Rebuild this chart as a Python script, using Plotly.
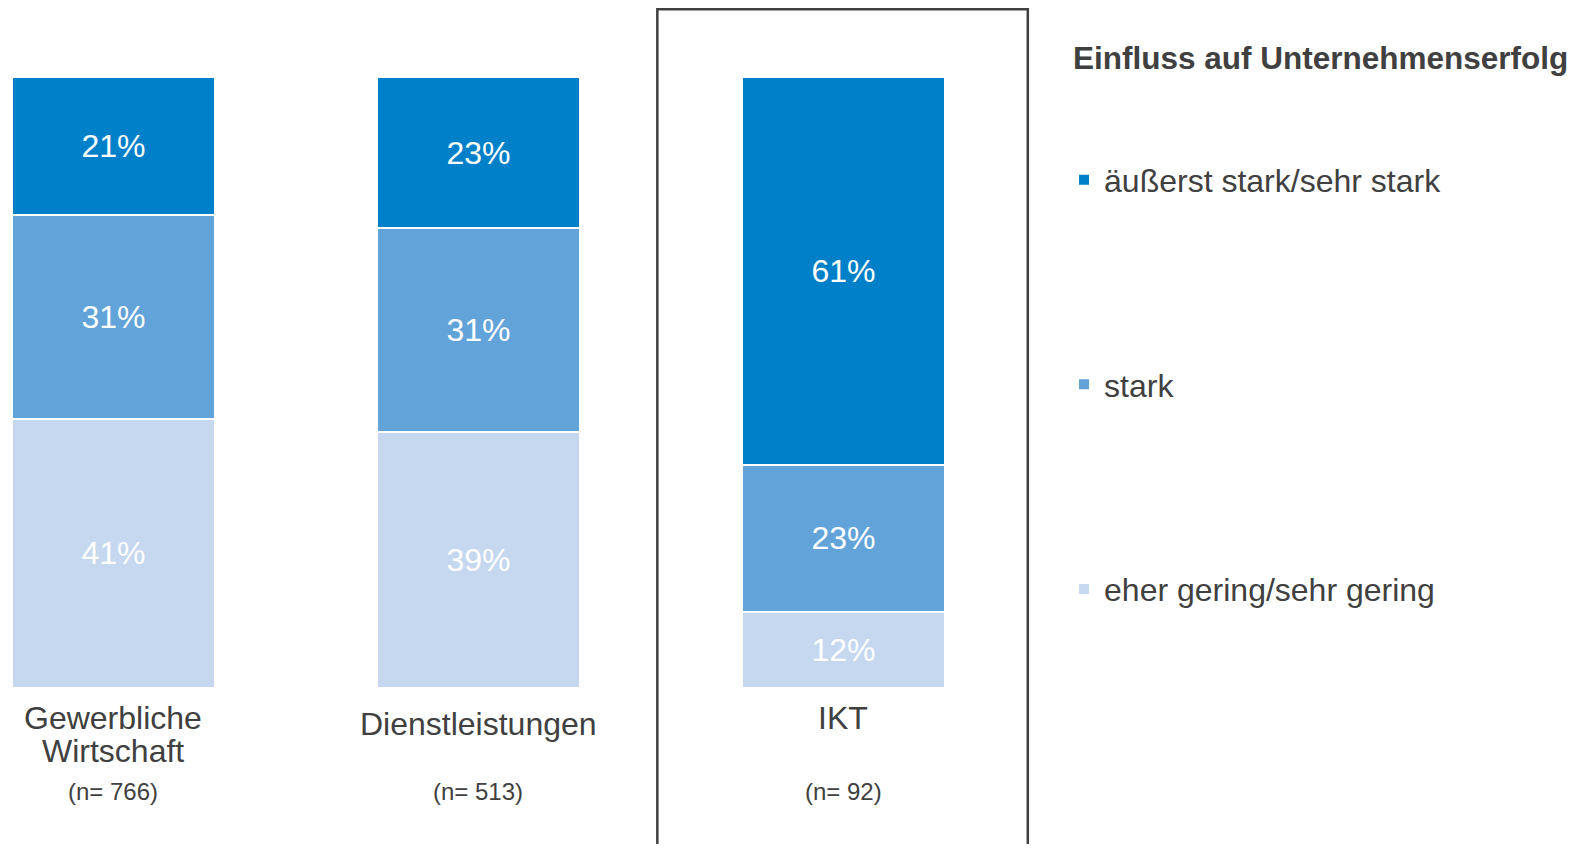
import plotly.graph_objects as go

# Data
categories = ["Gewerbliche Wirtschaft", "Dienstleistungen", "IKT"]
label_lines = [["Gewerbliche", "Wirtschaft"], ["Dienstleistungen"], ["IKT"]]
n_values = [766, 513, 92]
series_names = ["eher gering/sehr gering", "stark", "äußerst stark/sehr stark"]
gering = [41, 39, 12]
stark = [31, 31, 23]
sehr_stark = [21, 23, 61]
series_values = [gering, stark, sehr_stark]
colors = ["#C5D8F0", "#62A3D9", "#0080C8"]
ranks = [3, 2, 1]

text_color = "#404040"
font_family = "Liberation Sans, Arial, sans-serif"

fig = go.Figure()
for name, vals, col, rk in zip(series_names, series_values, colors, ranks):
    fig.add_trace(go.Bar(
        x=categories,
        y=vals,
        name=name,
        legendgroup=name,
        legendrank=rk,
        marker=dict(color=col, line=dict(color="white", width=2)),
        text=[f"{v}%" for v in vals],
        textposition="inside",
        insidetextanchor="middle",
        textangle=0,
        constraintext="none",
        textfont=dict(color="white", size=32, family=font_family),
        width=0.555,
        hoverinfo="skip",
    ))

# category labels (one annotation per line) and sample sizes
line_y = {"Gewerbliche Wirtschaft": [-0.049, -0.103],
          "Dienstleistungen": [-0.059],
          "IKT": [-0.049]}
for cat, lines, n in zip(categories, label_lines, n_values):
    for txt, ly in zip(lines, line_y[cat]):
        fig.add_annotation(
            x=cat, y=ly, xref="x", yref="paper", text=txt, showarrow=False,
            yanchor="middle", font=dict(size=32, color=text_color, family=font_family),
        )
    fig.add_annotation(
        x=cat, y=-0.170, xref="x", yref="paper", text=f"(n= {n})", showarrow=False,
        yanchor="middle", font=dict(size=24, color=text_color, family=font_family),
    )

# legend heading
fig.add_annotation(
    x=1.030, y=1.031, xref="paper", yref="paper", xanchor="left", yanchor="middle",
    text="<b>Einfluss auf Unternehmenserfolg</b>", showarrow=False,
    font=dict(size=31.5, color=text_color, family=font_family),
)

# frame around IKT
fig.add_shape(
    type="rect", xref="x", yref="paper", x0=1.49, x1=2.505, y0=-0.5, y1=1.111,
    line=dict(color=text_color, width=2.5), fillcolor="rgba(0,0,0,0)",
)

fig.update_layout(
    width=1565,
    height=836,
    barmode="stack",
    barnorm="percent",
    margin=dict(l=0, r=533, t=69, b=156),
    plot_bgcolor="white",
    paper_bgcolor="white",
    font=dict(family=font_family, color=text_color),
    xaxis=dict(range=[-0.289, 2.5384], showticklabels=False, showgrid=False,
               zeroline=False, showline=False),
    yaxis=dict(range=[0, 100], visible=False),
    showlegend=True,
    legend=dict(
        x=1.0233, y=0.8766, xanchor="left", yanchor="top",
        traceorder="grouped",
        tracegroupgap=160,
        font=dict(size=32, color=text_color, family=font_family),
        bgcolor="rgba(0,0,0,0)",
    ),
)

fig.write_html("out.html")
